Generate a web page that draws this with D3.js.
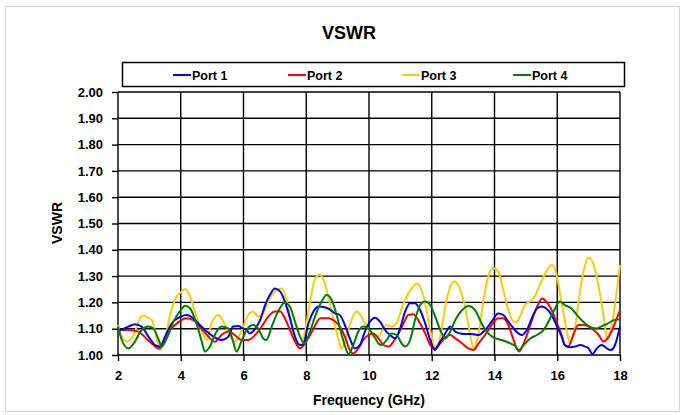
<!DOCTYPE html>
<meta charset="utf-8">
<style>
body { margin: 0; background: #fff; }
text { font-family: "Liberation Sans", Arial, sans-serif; font-weight: bold; }
.grid line { stroke: #000; stroke-width: 1.4px; }
.axis path { display: none; }
.axis line { stroke: #000; stroke-width: 1.4px; }
.axis text { font-size: 13px; fill: #000; }
.line { fill: none; stroke-width: 2px; }
</style>
<body>
<script src="https://d3js.org/d3.v7.min.js"></script>
<script>

// data: [frequency GHz, VSWR]
var port1 = [[2.0,1.089],[2.33,1.108],[2.54,1.117],[2.75,1.108],[2.97,1.07],[3.18,1.038],[3.34,1.032],[3.5,1.07],[3.71,1.12],[4.0,1.146],[4.19,1.152],[4.4,1.14],[4.61,1.114],[4.83,1.089],[5.04,1.07],[5.3,1.057],[5.52,1.07],[5.67,1.108],[5.83,1.11],[6.0,1.10],[6.1,1.095],[6.2,1.082],[6.37,1.10],[6.53,1.133],[6.69,1.19],[6.84,1.228],[7.0,1.253],[7.17,1.241],[7.32,1.203],[7.48,1.14],[7.64,1.07],[7.8,1.038],[7.9,1.04],[8.07,1.12],[8.23,1.165],[8.4,1.184],[8.7,1.177],[8.92,1.158],[9.07,1.152],[9.23,1.114],[9.39,1.063],[9.55,1.025],[9.71,1.038],[9.87,1.089],[10.03,1.127],[10.19,1.142],[10.35,1.127],[10.51,1.095],[10.67,1.076],[10.83,1.063],[10.99,1.10],[11.15,1.165],[11.31,1.197],[11.47,1.197],[11.63,1.171],[11.79,1.12],[11.95,1.057],[12.1,1.019],[12.27,1.051],[12.43,1.082],[12.59,1.108],[12.75,1.089],[12.91,1.082],[13.06,1.08],[13.27,1.08],[13.49,1.076],[13.7,1.095],[13.91,1.127],[14.12,1.158],[14.28,1.152],[14.44,1.127],[14.65,1.095],[14.76,1.082],[14.87,1.076],[15.03,1.095],[15.19,1.14],[15.35,1.177],[15.5,1.184],[15.65,1.177],[15.82,1.152],[15.97,1.114],[16.14,1.07],[16.24,1.038],[16.41,1.029],[16.57,1.032],[16.73,1.038],[16.89,1.032],[17.0,1.025],[17.12,1.004],[17.26,1.025],[17.42,1.038],[17.58,1.025],[17.71,1.019],[17.84,1.038],[18.0,1.108]];

var port2 = [[2.0,1.095],[2.33,1.095],[2.65,1.089],[2.9,1.063],[3.13,1.038],[3.3,1.025],[3.46,1.044],[3.67,1.095],[3.95,1.127],[4.18,1.14],[4.4,1.133],[4.6,1.108],[4.88,1.07],[5.09,1.05],[5.3,1.076],[5.52,1.089],[5.72,1.076],[5.93,1.057],[6.15,1.057],[6.37,1.076],[6.58,1.108],[6.79,1.146],[7.0,1.165],[7.17,1.165],[7.32,1.14],[7.48,1.095],[7.64,1.051],[7.8,1.025],[8.03,1.057],[8.23,1.10],[8.45,1.14],[8.7,1.14],[8.92,1.127],[9.07,1.108],[9.23,1.07],[9.39,1.019],[9.5,1.006],[9.66,1.025],[9.82,1.057],[9.98,1.076],[10.14,1.082],[10.3,1.063],[10.46,1.038],[10.62,1.032],[10.78,1.051],[10.94,1.082],[11.1,1.12],[11.25,1.152],[11.41,1.155],[11.63,1.12],[11.79,1.082],[11.95,1.038],[12.1,1.025],[12.27,1.044],[12.43,1.067],[12.59,1.076],[12.75,1.063],[12.97,1.044],[13.17,1.025],[13.33,1.019],[13.49,1.044],[13.7,1.076],[13.91,1.114],[14.12,1.14],[14.28,1.14],[14.44,1.114],[14.6,1.06],[14.78,1.013],[14.93,1.044],[15.09,1.095],[15.25,1.152],[15.41,1.197],[15.52,1.215],[15.65,1.203],[15.82,1.171],[15.97,1.127],[16.14,1.076],[16.24,1.038],[16.35,1.032],[16.51,1.076],[16.67,1.114],[16.84,1.114],[17.0,1.108],[17.16,1.095],[17.32,1.076],[17.48,1.051],[17.6,1.063],[17.75,1.095],[17.92,1.146],[18.0,1.171]];

var port3 = [[2.0,1.114],[2.12,1.07],[2.28,1.051],[2.5,1.076],[2.7,1.14],[2.8,1.15],[2.97,1.14],[3.08,1.133],[3.18,1.089],[3.34,1.019],[3.5,1.063],[3.66,1.152],[3.87,1.222],[4.03,1.241],[4.14,1.251],[4.3,1.222],[4.45,1.165],[4.67,1.089],[4.83,1.057],[5.0,1.127],[5.2,1.152],[5.41,1.114],[5.57,1.076],[5.72,1.051],[5.93,1.089],[6.15,1.152],[6.31,1.165],[6.47,1.146],[6.63,1.158],[6.79,1.203],[7.0,1.241],[7.21,1.253],[7.37,1.215],[7.53,1.12],[7.69,1.044],[7.8,1.025],[7.96,1.089],[8.12,1.203],[8.28,1.29],[8.42,1.305],[8.54,1.29],[8.7,1.222],[8.86,1.14],[9.02,1.063],[9.13,1.025],[9.28,1.07],[9.44,1.133],[9.6,1.165],[9.76,1.146],[9.92,1.108],[10.08,1.076],[10.24,1.063],[10.4,1.089],[10.56,1.114],[10.72,1.108],[10.88,1.12],[11.04,1.177],[11.2,1.222],[11.36,1.253],[11.52,1.272],[11.63,1.26],[11.79,1.197],[11.95,1.095],[12.1,1.032],[12.27,1.07],[12.43,1.184],[12.59,1.26],[12.74,1.279],[12.91,1.247],[13.06,1.184],[13.22,1.082],[13.33,1.025],[13.49,1.082],[13.65,1.209],[13.8,1.298],[13.96,1.33],[14.12,1.317],[14.28,1.247],[14.44,1.171],[14.6,1.127],[14.7,1.125],[14.81,1.146],[14.97,1.19],[15.12,1.203],[15.28,1.222],[15.44,1.266],[15.65,1.317],[15.82,1.342],[15.97,1.31],[16.14,1.197],[16.3,1.095],[16.41,1.044],[16.57,1.108],[16.73,1.247],[16.89,1.342],[17.0,1.371],[17.16,1.342],[17.32,1.26],[17.48,1.146],[17.6,1.06],[17.75,1.12],[17.9,1.247],[18.0,1.342]];

var port4 = [[2.0,1.108],[2.12,1.057],[2.33,1.025],[2.54,1.051],[2.75,1.095],[2.97,1.108],[3.13,1.10],[3.3,1.057],[3.39,1.032],[3.55,1.063],[3.77,1.127],[4.0,1.171],[4.14,1.187],[4.3,1.177],[4.5,1.12],[4.67,1.051],[4.77,1.013],[4.93,1.032],[5.1,1.08],[5.3,1.108],[5.52,1.10],[5.67,1.051],[5.78,1.013],[5.93,1.051],[6.1,1.095],[6.31,1.114],[6.47,1.10],[6.63,1.063],[6.73,1.057],[6.9,1.108],[7.1,1.165],[7.32,1.2],[7.48,1.184],[7.64,1.127],[7.8,1.07],[7.94,1.044],[8.12,1.089],[8.28,1.146],[8.49,1.203],[8.65,1.228],[8.81,1.209],[8.97,1.152],[9.13,1.076],[9.28,1.019],[9.34,1.003],[9.5,1.038],[9.66,1.089],[9.82,1.108],[9.98,1.10],[10.14,1.076],[10.3,1.044],[10.4,1.038],[10.56,1.057],[10.72,1.082],[10.88,1.076],[11.04,1.044],[11.15,1.032],[11.31,1.057],[11.47,1.135],[11.63,1.19],[11.79,1.203],[11.95,1.19],[12.11,1.146],[12.27,1.095],[12.43,1.063],[12.59,1.089],[12.75,1.133],[12.97,1.171],[13.17,1.186],[13.38,1.171],[13.59,1.12],[13.75,1.089],[13.96,1.067],[14.23,1.057],[14.5,1.044],[14.65,1.035],[14.78,1.019],[14.93,1.038],[15.14,1.063],[15.35,1.076],[15.56,1.095],[15.72,1.127],[15.88,1.165],[16.08,1.203],[16.24,1.19],[16.45,1.177],[16.67,1.146],[16.89,1.12],[17.1,1.104],[17.26,1.101],[17.42,1.11],[17.58,1.117],[17.75,1.13],[17.92,1.136],[18.0,1.133]];

var seriesNames = ["Port 1", "Port 2", "Port 3", "Port 4"];
var seriesColors = ["#0000ff", "#ff0000", "#ffcc00", "#008000"];
var xTicks = [2, 4, 6, 8, 10, 12, 14, 16, 18];
var yTicks = [1.0, 1.1, 1.2, 1.3, 1.4, 1.5, 1.6, 1.7, 1.8, 1.9, 2.0];

//
// layout
//
var W = 685, H = 415;
var margin = {top: 92, right: 65, bottom: 60, left: 118};
var width = 620 - margin.left;
var height = 355 - margin.top;

var svg = d3.select("body").append("svg")
    .attr("width", W)
    .attr("height", H);

svg.append("rect")
    .attr("x", 5.5).attr("y", 6.5)
    .attr("width", 674).attr("height", 405)
    .attr("fill", "none")
    .attr("stroke", "#d4d4d4");

svg.append("text")
    .attr("x", 349).attr("y", 39)
    .attr("text-anchor", "middle")
    .attr("font-size", "18px")
    .text("VSWR");

var x = d3.scaleLinear().domain([2, 18]).range([0, width]);
var y = d3.scaleLinear().domain([1, 2]).range([height, 0]);

var g = svg.append("g")
    .attr("transform", "translate(" + margin.left + "," + margin.top + ")");

// grid
g.append("g").attr("class", "grid")
  .selectAll("line").data(yTicks).enter().append("line")
    .attr("x1", 0).attr("x2", width)
    .attr("y1", d => y(d)).attr("y2", d => y(d));

g.append("g").attr("class", "grid")
  .selectAll("line").data(xTicks).enter().append("line")
    .attr("y1", 0).attr("y2", height)
    .attr("x1", d => x(d)).attr("x2", d => x(d));

// axes
g.append("g")
    .attr("class", "axis")
    .call(d3.axisLeft(y).tickValues(yTicks).tickFormat(d3.format(".2f")).tickSize(6).tickPadding(9));

g.append("g")
    .attr("class", "axis")
    .attr("transform", "translate(0," + height + ")")
    .call(d3.axisBottom(x).tickValues(xTicks).tickSize(6).tickPadding(10));

// lines
var line = d3.line()
    .curve(d3.curveMonotoneX)
    .x(d => x(d[0]))
    .y(d => y(d[1]));

var allSeries = [port1, port2, port3, port4];
// draw order in the picture: yellow, red, blue, green on top
[2, 1, 0, 3].forEach(function(i) {
  g.append("path")
      .datum(allSeries[i])
      .attr("class", "line")
      .attr("stroke", seriesColors[i])
      .attr("d", line);
});

// axis titles
svg.append("text")
    .attr("transform", "translate(62,223) rotate(-90)")
    .attr("text-anchor", "middle")
    .attr("font-size", "14px")
    .text("VSWR");

svg.append("text")
    .attr("x", 369).attr("y", 405)
    .attr("text-anchor", "middle")
    .attr("font-size", "14px")
    .text("Frequency (GHz)");

// legend
var legend = svg.append("g");
legend.append("rect")
    .attr("x", 122.5).attr("y", 62.5)
    .attr("width", 502).attr("height", 24)
    .attr("fill", "#fff")
    .attr("stroke", "#000")
    .attr("stroke-width", 1.5);

var legendX = [173, 288, 402, 513];
seriesNames.forEach(function(name, i) {
  var item = legend.append("g").attr("transform", "translate(" + legendX[i] + ",75)");
  item.append("line")
      .attr("x1", 0).attr("x2", 18)
      .attr("stroke", seriesColors[i])
      .attr("stroke-width", 2);
  item.append("text")
      .attr("x", 19).attr("y", 4.5)
      .attr("font-size", "12.5px")
      .text(name);
});

</script>
</body>
